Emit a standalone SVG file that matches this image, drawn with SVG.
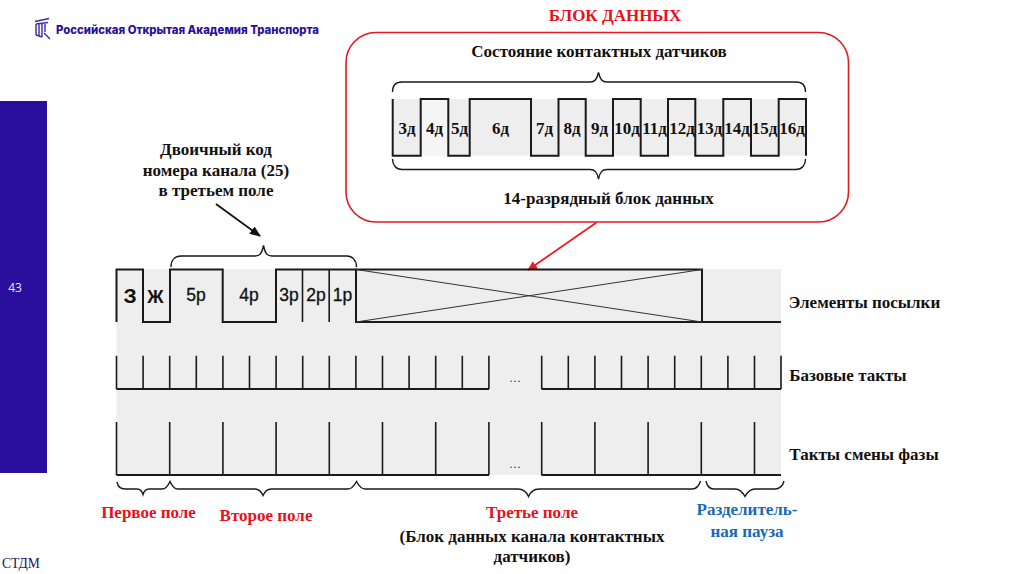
<svg xmlns="http://www.w3.org/2000/svg" width="1024" height="574" viewBox="0 0 1024 574">
<style>
.w{fill:none;stroke:#1a1a1a;stroke-width:2}
.t{fill:none;stroke:#1a1a1a;stroke-width:1.6}
.b{fill:none;stroke:#1a1a1a;stroke-width:1.4}
.s{font-family:"Liberation Serif",serif;font-weight:bold;font-size:17px;text-anchor:middle;fill:#111}
.d{font-family:"Liberation Serif",serif;font-weight:bold;font-size:17px;text-anchor:middle;fill:#111}
.a{font-family:"Liberation Sans",sans-serif;font-size:17.500px;text-anchor:middle;fill:#111;stroke:#111;stroke-width:.3}
.r{fill:#e8101a}
.u{fill:#1769b8}
.dots{font-family:"Liberation Serif",serif;font-size:12px;text-anchor:middle;fill:#333}
</style>
<defs>
<marker id="ar" markerWidth="10" markerHeight="9" refX="9" refY="4.500" orient="auto" markerUnits="userSpaceOnUse"><path d="M0 0L10 4.500L0 9Z" fill="#ee1c25"/></marker>
<marker id="ak" markerWidth="11" markerHeight="9" refX="10" refY="4.500" orient="auto" markerUnits="userSpaceOnUse"><path d="M0 0L11 4.500L0 9Z" fill="#111"/></marker>
</defs>
<rect width="1024" height="574" fill="#fff"/>
<g id="sidebar">
<rect x="0" y="101" width="47" height="372" fill="#2a0f9e"/>
<text x="15" y="292" font-family="Open Sans,sans-serif" font-size="12" fill="#e8e8f8" text-anchor="middle">43</text>
<text x="2" y="568" font-family="Liberation Serif,serif" font-size="13.600" fill="#1a1560">СТДМ</text>
</g>
<g id="logo">
<path d="M35 21.500L49 18.500M36 24L48 22.500M36 24V35M39 24V36M42 24V37M45 24V32M44 33L50 39M36 35L42 37" fill="none" stroke="#3a2aa8" stroke-width="1.400"/>
<text x="56" y="34" font-family="Inter,sans-serif" font-weight="800" font-size="11.600" fill="#2a0f9e" textLength="263" lengthAdjust="spacingAndGlyphs">Российская Открытая Академия Транспорта</text>
</g>
<g id="title"><text class="s r" x="615" y="21">БЛОК ДАННЫХ</text></g>
<g id="data-block">
<rect x="346" y="32.500" width="502.500" height="189.500" rx="30" fill="#fff" stroke="#e01b24" stroke-width="1.600"/>
<text class="s" x="599" y="56.500">Состояние контактных датчиков</text>
<path class="b" d="M392.500 92C392.500 85 396 82 402 82H590C595 82 597 79 598.500 72.500C600 79 602 82 607 82H796C802 82 805.500 85 805.500 92"/>
<rect x="392.700" y="99" width="413.300" height="56.700" fill="#eee"/>
<rect x="420.700" y="99" width="27.600" height="56.700" fill="#f5f5f5"/>
<path class="w" d="M392.700 99V155.700H420.700V99H448.300V155.700H469.700V99H531V155.700H558.500V99H585.700V155.700H613V99H640.700V155.700H668V99H695.300V155.700H723.300V99H751V155.700H778.700V99H806V155.700"/>
<g>
<text class="d" x="407" y="133.500">3д</text><text class="d" x="434.500" y="133.500">4д</text><text class="d" x="459.500" y="133.500">5д</text><text class="d" x="500.500" y="133.500">6д</text><text class="d" x="544.500" y="133.500">7д</text><text class="d" x="572" y="133.500">8д</text><text class="d" x="599.500" y="133.500">9д</text><text class="d" x="627" y="133.500">10д</text><text class="d" x="654.500" y="133.500">11д</text><text class="d" x="682" y="133.500">12д</text><text class="d" x="709.500" y="133.500">13д</text><text class="d" x="737" y="133.500">14д</text><text class="d" x="764.500" y="133.500">15д</text><text class="d" x="792" y="133.500">16д</text>
</g>
<path class="b" d="M392.500 159C392.500 165 396 169.500 402 169.500H590C595 169.500 597 172 598.500 179C600 172 602 169.500 607 169.500H796C802 169.500 805.500 165 805.500 159"/>
<text class="s" x="608.500" y="203.500">14-разрядный блок данных</text>
</g>
<g id="band"><rect x="116.500" y="269" width="664.500" height="206" fill="#eee"/></g>
<g id="connectors">
<path d="M596.500 222.500L528 270" fill="none" stroke="#ee1c25" stroke-width="1.800" marker-end="url(#ar)"/>
<path d="M216 204L260 236" fill="none" stroke="#111" stroke-width="1.800" marker-end="url(#ak)"/>
</g>
<g id="signal">
<path class="w" d="M116.500 322V269.500H143V322H170V269.500H222.700V322H276V269.500H356V322H781"/>
<path class="t" d="M302.500 269.500V322M329.200 269.500V322"/>
<path class="w" d="M356 269.500H702V322"/>
<path d="M356 269.500L702 322M356 322L702 269.500" fill="none" stroke="#333" stroke-width="1"/>
<text x="130" y="303" font-family="Liberation Sans,sans-serif" font-weight="bold" font-size="21" text-anchor="middle" fill="#111">З</text>
<text x="155.500" y="302.500" font-family="Liberation Sans,sans-serif" font-weight="bold" font-size="18" text-anchor="middle" fill="#111">Ж</text>
<text class="a" x="196" y="301">5р</text><text class="a" x="249" y="301">4р</text><text class="a" x="289" y="301">3р</text><text class="a" x="316" y="301">2р</text><text class="a" x="342.500" y="301">1р</text>
<path class="b" d="M171 267C171 260 175 256 181 256H255C260 256 262 253 263.500 245.500C265 253 267 256 272 256H347C352 256 356.500 260 356.500 267"/>
<text class="s" x="216" y="155">Двоичный код</text><text class="s" x="216" y="175.500">номера канала (25)</text><text class="s" x="216" y="195.500">в третьем поле</text>
</g>
<g id="base-clock">
<path class="w" d="M116.500 389H489M541.500 389H781"/>
<path class="t" d="M116.500 355.700V389M143.100 355.700V389M169.700 355.700V389M196.300 355.700V389M222.900 355.700V389M249.500 355.700V389M276.100 355.700V389M302.700 355.700V389M329.300 355.700V389M355.900 355.700V389M382.500 355.700V389M409.100 355.700V389M435.700 355.700V389M462.300 355.700V389M488.900 355.700V389M541.700 355.700V389M568.300 355.700V389M594.900 355.700V389M621.500 355.700V389M648.100 355.700V389M674.700 355.700V389M701.300 355.700V389M727.900 355.700V389M754.500 355.700V389M781 355.700V389"/>
<text class="dots" x="515" y="382">…</text>
</g>
<g id="phase-clock">
<path class="w" d="M116.500 475H489M541.500 475H781"/>
<path class="t" d="M116.500 422V475M169.700 422V475M222.900 422V475M276.100 422V475M329.300 422V475M382.500 422V475M435.700 422V475M488.900 422V475M541.700 422V475M594.900 422V475M648.100 422V475M701.300 422V475M754.500 422V475"/>
<text class="dots" x="515" y="468">…</text>
</g>
<g id="row-labels">
<text class="s" x="864.500" y="307.500">Элементы посылки</text>
<text class="s" x="848" y="380.500">Базовые такты</text>
<text class="s" x="864" y="459.500">Такты смены фазы</text>
</g>
<g id="field-braces">
<path class="b" d="M117 482C118 487 121 489 125 489H137C140 489 142 491 143 494.500C144 491 146 489 149 489H162C166 489 168 486 170 481.500C172 486 174 489 178 489H255C259 489 261 491 263 495.500C265 491 267 489 271 489H348C352 489 354 486 356.500 481.500C359 486 361 489 365 489H518C522 489 526 491 528.500 496.500C531 491 535 489 539 489H692C696 489 699 486 700.500 481"/>
<path class="b" d="M706 481C707 486 710 489 714 489H735C739 489 742 491 745 496.500C748 491 751 489 755 489H775C779 489 783 486 784 481"/>
</g>
<g id="field-labels">
<text class="s r" x="148.500" y="518">Первое поле</text>
<text class="s r" x="266" y="521">Второе поле</text>
<text class="s r" x="532" y="518">Третье поле</text>
<text class="s" x="532" y="541.500">(Блок данных канала контактных</text>
<text class="s" x="532" y="562">датчиков)</text>
<text class="s u" x="747" y="515">Разделитель-</text>
<text class="s u" x="747" y="536.500">ная пауза</text>
</g>
</svg>
